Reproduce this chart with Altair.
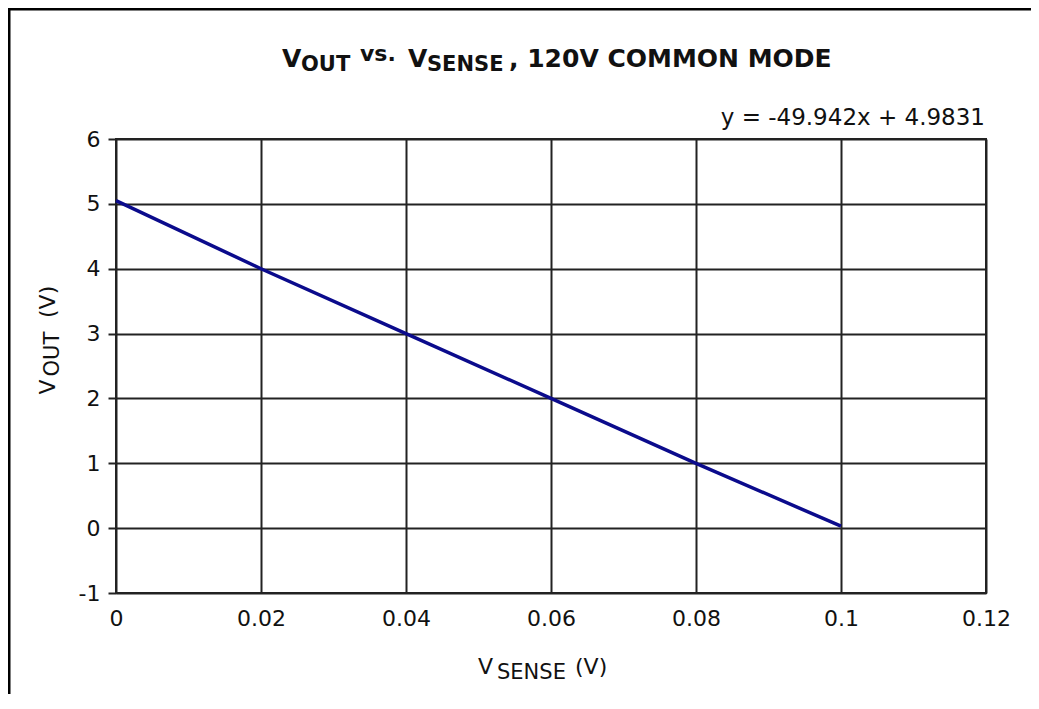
import altair as alt
import pandas as pd

# ---- data ----
v_sense = [0.0, 0.02, 0.04, 0.06, 0.08, 0.10]
v_out = [5.05, 4.0, 3.0, 2.0, 1.0, 0.03]
x_ticks = [0, 0.02, 0.04, 0.06, 0.08, 0.10, 0.12]
y_ticks = [-1, 0, 1, 2, 3, 4, 5, 6]
equation = "y = -49.942x + 4.9831"

FONT = "DejaVu Sans"
W, H = 870, 454
PAD_L, PAD_T = 108, 131
TOTAL_W, TOTAL_H = 1023, 686

df = pd.DataFrame({"x": v_sense, "y": v_out})
one = pd.DataFrame({"k": [0]})

x_enc = alt.X(
    "x:Q",
    scale=alt.Scale(domain=[0, 0.12], nice=False, zero=False),
    axis=alt.Axis(
        values=x_ticks, title=None, grid=True, ticks=False, domain=False,
        labelFontSize=22, labelFont=FONT, labelColor="#111", labelPadding=15,
        labelFlush=False, labelOverlap=False,
        gridColor="#222", gridWidth=2, gridOpacity=1,
        labelExpr="datum.value == 0 ? '0' : format(datum.value, '.2~f')",
    ),
)
y_enc = alt.Y(
    "y:Q",
    scale=alt.Scale(domain=[-1, 6], nice=False, zero=False),
    axis=alt.Axis(
        values=y_ticks, title=None, grid=True, ticks=True, tickSize=8,
        tickColor="#222", tickWidth=2, domain=False,
        labelFontSize=22, labelFont=FONT, labelColor="#111", labelPadding=8,
        labelFlush=False, labelOverlap=False,
        gridColor="#222", gridWidth=2, gridOpacity=1,
        labelExpr="toString(datum.value)",
    ),
)

line = alt.Chart(df).mark_line(color="#0b0b8c", strokeWidth=3.5).encode(x=x_enc, y=y_enc)

def txt(s, x, y, size, bold=False, align="left", baseline="alphabetic", angle=0):
    kw = dict(text=s, font=FONT, fontSize=size, fontWeight="bold" if bold else "normal",
              align=align, baseline=baseline, color="#111")
    if angle:
        kw["angle"] = angle
    return alt.Chart(one).mark_text(**kw).encode(x=alt.value(x), y=alt.value(y))

# title pieces (V_OUT vs. V_SENSE, 120V COMMON MODE)
title_parts = [
    ("V", 166, -72.5, 25), ("OUT", 185, -68.5, 21), ("vs.", 244, -78, 22),
    ("V", 292, -72.5, 25), ("SENSE", 311, -68.5, 21), (", 120V COMMON MODE", 393, -72.5, 25),
]
layers = [txt(s, x, y, sz, bold=True) for s, x, y, sz in title_parts]

# equation
layers.append(txt(equation, 869, -21.5, 23, align="right", baseline="middle"))

# x axis title V_SENSE (V)
layers += [
    txt("V", 362, 535, 22), txt("SENSE", 381, 540, 21), txt("(V)", 459, 535, 22),
]
# y axis title V_OUT (V), rotated
layers += [
    txt("V", -61, 255.5, 22, angle=270), txt("OUT", -57, 237.5, 21, angle=270),
    txt("(V)", -61, 179, 22, angle=270),
]

# outer frame: top and left edges (the rest lies beyond the picture)
frame_top = alt.Chart(one).mark_rule(color="#000", strokeWidth=2.5).encode(
    x=alt.value(-PAD_L), x2=alt.value(TOTAL_W - PAD_L), y=alt.value(-PAD_T + 1.25),
)
frame_left = alt.Chart(one).mark_rule(color="#000", strokeWidth=2.5).encode(
    x=alt.value(-PAD_L + 1.25), y=alt.value(-PAD_T), y2=alt.value(TOTAL_H - PAD_T),
)

chart = alt.layer(line, *layers, frame_top, frame_left).properties(
    width=W, height=H,
    autosize=alt.AutoSizeParams(type="none"),
    padding={"left": PAD_L, "top": PAD_T, "right": TOTAL_W - PAD_L - W, "bottom": TOTAL_H - PAD_T - H},
    background="white",
).configure_view(stroke="#222", strokeWidth=2)

chart.save("out.html", embed_options={"renderer": "svg", "actions": False})
